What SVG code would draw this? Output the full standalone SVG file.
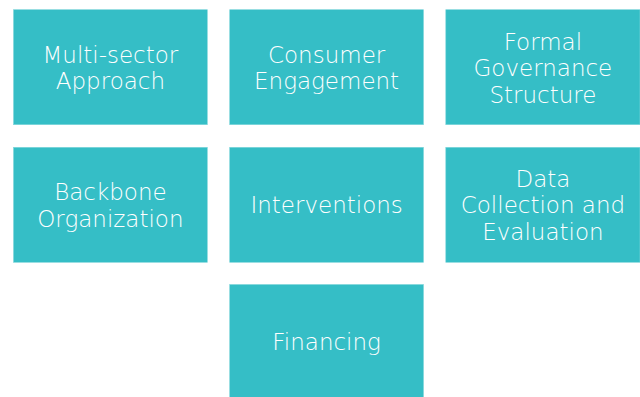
<svg xmlns="http://www.w3.org/2000/svg" width="640" height="397" viewBox="0 0 640 397">
<style>
.box{fill:#35BEC6;stroke:#7fd6db;stroke-width:0.6}
.t{font-family:"DejaVu Sans","Liberation Sans",sans-serif;font-size:23px;font-weight:200;fill:#ffffff;text-anchor:middle}
</style>
<rect width="640" height="397" fill="#ffffff"/>
<g id="node-multisector"><rect class="box" x="13.5" y="9.7" width="193.8" height="115"/>
<text class="t" x="110.4"><tspan x="110.4" y="62.7">Multi-sector</tspan><tspan x="110.4" y="89.2">Approach</tspan></text></g>
<g id="node-consumer"><rect class="box" x="229.7" y="9.7" width="193.8" height="115"/>
<text class="t"><tspan x="326.6" y="62.7">Consumer</tspan><tspan x="326.6" y="89.2">Engagement</tspan></text></g>
<g id="node-governance"><rect class="box" x="445.8" y="9.7" width="194.2" height="115"/>
<text class="t"><tspan x="542.9" y="49.5">Formal</tspan><tspan x="542.9" y="76">Governance</tspan><tspan x="542.9" y="102.5">Structure</tspan></text></g>
<g id="node-backbone"><rect class="box" x="13.5" y="147.3" width="193.8" height="115"/>
<text class="t"><tspan x="110.4" y="200.3">Backbone</tspan><tspan x="110.4" y="226.8">Organization</tspan></text></g>
<g id="node-interventions"><rect class="box" x="229.7" y="147.3" width="193.8" height="115"/>
<text class="t" x="326.6" y="213.3">Interventions</text></g>
<g id="node-data"><rect class="box" x="445.8" y="147.3" width="194.2" height="115"/>
<text class="t"><tspan x="542.9" y="186.5">Data</tspan><tspan x="542.9" y="213">Collection and</tspan><tspan x="542.9" y="239.5">Evaluation</tspan></text></g>
<g id="node-financing"><rect class="box" x="229.7" y="284.5" width="193.8" height="115"/>
<text class="t" x="326.6" y="350">Financing</text></g>
<g id="connectors"></g>
</svg>
